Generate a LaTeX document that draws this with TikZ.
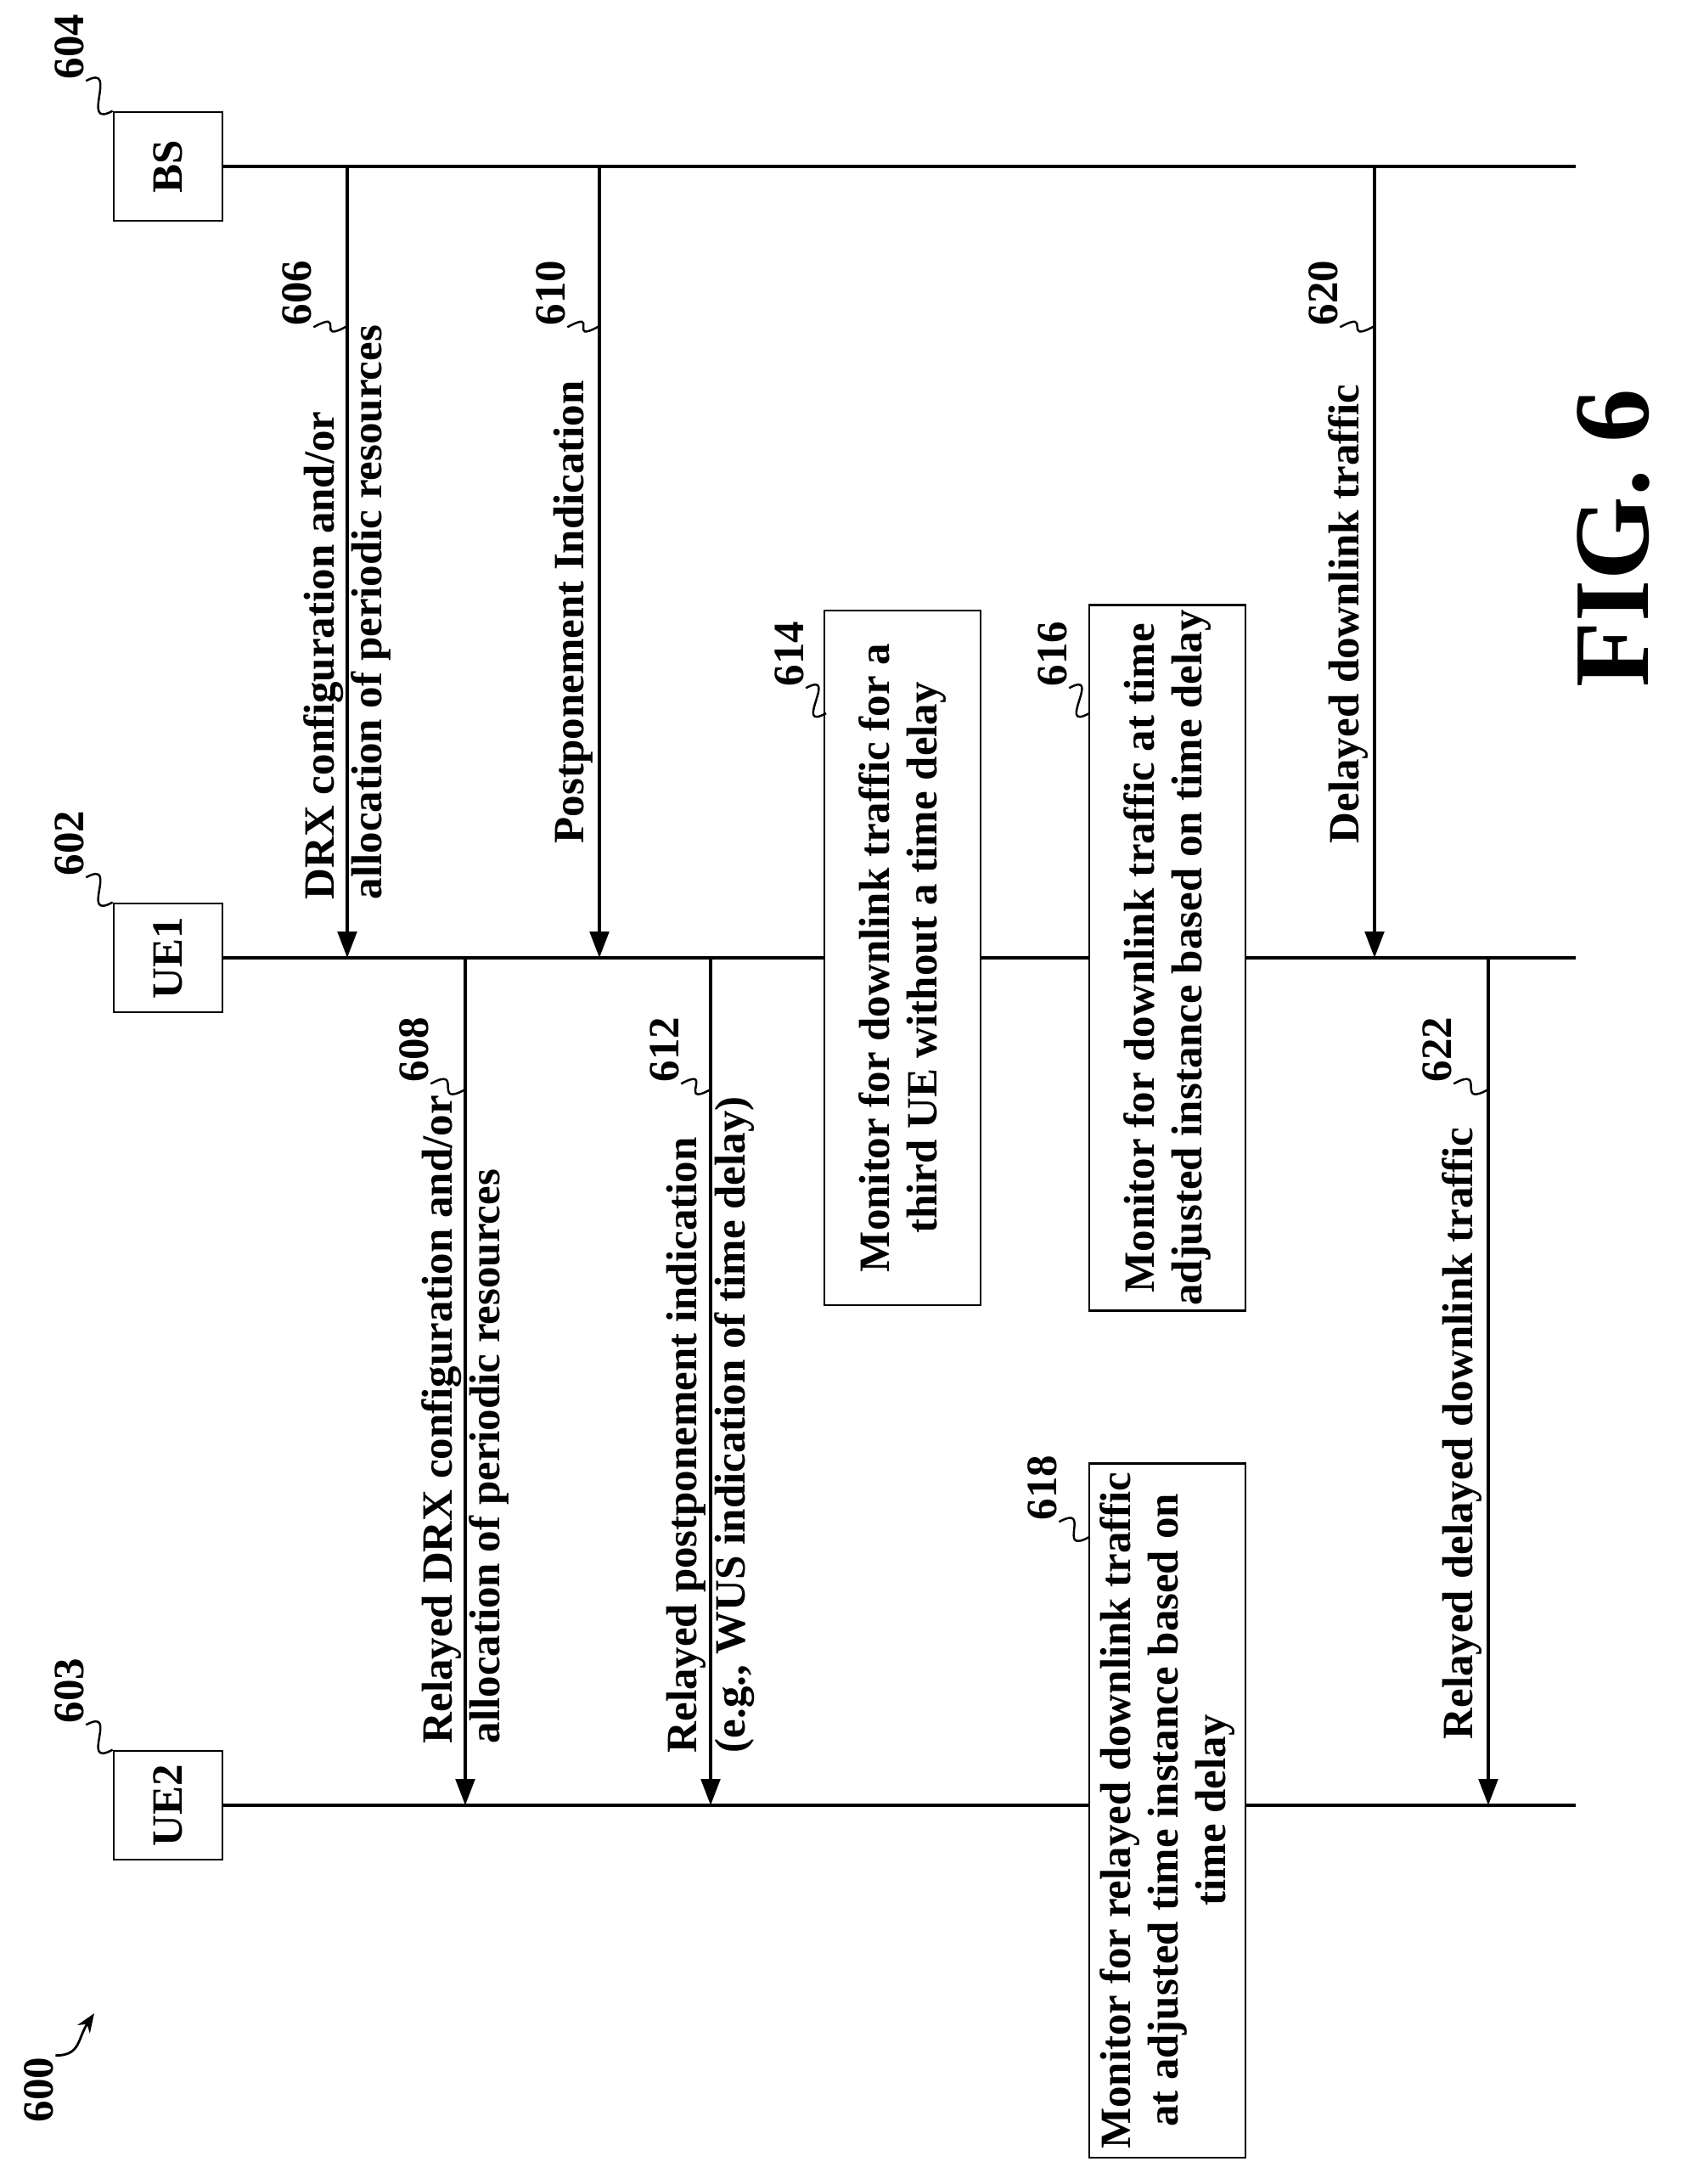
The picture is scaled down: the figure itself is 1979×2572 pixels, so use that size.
\documentclass[tikz,border=0pt]{standalone}
\usepackage{fontspec}
\setmainfont{Liberation Serif}
\usetikzlibrary{arrows.meta, positioning}

\begin{document}
\begin{tikzpicture}[
    x=0.02cm, y=-0.02cm,
    font=\fontsize{29}{32}\selectfont\bfseries,
    entity/.style={rectangle, draw, line width=1.6pt, rotate=90, minimum width=2.56cm, minimum height=2.56cm, inner sep=0pt},
    monitor/.style={rectangle, draw, line width=1.6pt, fill=white, rotate=90, align=center, minimum width=16.36cm, minimum height=3.68cm},
    msgtext/.style={rotate=90, align=left, inner sep=2pt},
    num/.style={rotate=90, inner sep=1pt},
    life/.style={draw, line width=1.8pt},
    line/.style={draw, line width=2.2pt, -{Triangle[length=0.62cm, width=0.45cm]}},
    leader/.style={draw, line width=1.4pt, to path={.. controls +(40,-22) and +(-40,22) .. (\tikztotarget)}}
]
    \useasboundingbox (0,0) rectangle (1979,2572);

    % entities and their lifelines
    \node [entity] (bs) at (198,196) {BS};
    \node [entity] (ue1) at (198,1128) {UE1};
    \node [entity] (ue2) at (198,2126) {UE2};
    \coordinate (bsend) at (1856,0 |- bs.center);
    \coordinate (ue1end) at (1856,0 |- ue1.center);
    \coordinate (ue2end) at (1856,0 |- ue2.center);
    \path [life] (bs.south) -- (bsend);
    \path [life] (ue1.south) -- (ue1end);
    \path [life] (ue2.south) -- (ue2end);

    % messages BS -> UE1
    \foreach \name/\x in {m606/409, m610/706, m620/1619} {
        \coordinate (\name s) at (\x,0 |- bs.center);
        \coordinate (\name e) at (\x,0 |- ue1.center);
        \path [line] (\name s) -- (\name e);
    }
    % messages UE1 -> UE2
    \foreach \name/\x in {m608/548, m612/837, m622/1753} {
        \coordinate (\name s) at (\x,0 |- ue1.center);
        \coordinate (\name e) at (\x,0 |- ue2.center);
        \path [line] (\name s) -- (\name e);
    }

    \node [msgtext, anchor=west] (t606) at (409,1063) {DRX configuration and/or\\allocation of periodic resources};
    \node [msgtext, anchor=south west] (t610) at (702,997) {Postponement Indication};
    \node [msgtext, anchor=south west] (t620) at (1615,997) {Delayed downlink traffic};
    \node [msgtext, anchor=west] (t608) at (548,2057) {Relayed DRX configuration and/or\\allocation of periodic resources};
    \node [msgtext, anchor=west] (t612) at (837,2068) {Relayed postponement indication\\(e.g., WUS indication of time delay)};
    \node [msgtext, anchor=south west] (t622) at (1749,2052) {Relayed delayed downlink traffic};

    % monitoring steps
    \node [monitor] (s614) at (1063,1128) {Monitor for downlink traffic for a\\third UE without a time delay};
    \node [monitor] (s616) at (1375,1128) {Monitor for downlink traffic at time\\adjusted instance based on time delay};
    \node [monitor] (s618) at (1375,2132) {Monitor for relayed downlink traffic\\at adjusted time instance based on\\time delay};

    % reference numerals
    \node [num] (n604) at (82,55) {604};
    \node [num] (n602) at (82,993) {602};
    \node [num] (n603) at (82,1991) {603};
    \node [num] (n606) at (350,345) {606};
    \node [num] (n610) at (649,345) {610};
    \node [num] (n620) at (1559,345) {620};
    \node [num] (n608) at (488,1236) {608};
    \node [num] (n612) at (783,1236) {612};
    \node [num] (n622) at (1693,1236) {622};
    \node [num] (n614) at (930,770) {614};
    \node [num] (n616) at (1240,770) {616};
    \node [num] (n618) at (1228,1752) {618};
    \node [num] (n600) at (46,2461) {600};

    \coordinate (c606) at (409,384);
    \coordinate (c610) at (706,384);
    \coordinate (c620) at (1619,384);
    \coordinate (c608) at (548,1283);
    \coordinate (c612) at (837,1283);
    \coordinate (c622) at (1753,1283);
    \coordinate (c614) at (973,840);
    \coordinate (c616) at (1283,840);
    \coordinate (c618) at (1283,1810);

    \draw [leader] (n604.south west) to (bs.north east);
    \draw [leader] (n602.south west) to (ue1.north east);
    \draw [leader] (n603.south west) to (ue2.north east);
    \foreach \n in {606, 610, 620, 608, 612, 622, 614, 616, 618} {
        \draw [leader] (n\n.south west) to (c\n);
    }

    \coordinate (c600) at (111,2371);
    \draw [line width=1.6pt, -{Stealth[length=0.45cm, width=0.35cm]}] (n600.south east) .. controls +(30,0) and +(-20,30) .. (c600);

    \node [rotate=90, font=\fontsize{72}{76}\selectfont\bfseries] (fig) at (1900,634) {FIG. 6};
\end{tikzpicture}
\end{document}
